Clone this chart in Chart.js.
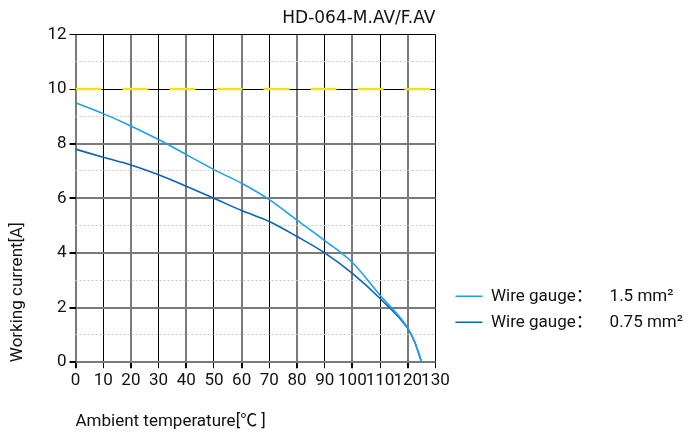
<!DOCTYPE html>
<html>
<head>
<meta charset="utf-8">
<script src="https://cdn.jsdelivr.net/npm/chart.js@4/dist/chart.umd.min.js"></script>
<style>
  html, body { margin: 0; padding: 0; background: #fff; }
  #wrap { width: 697px; height: 432px; }
</style>
</head>
<body>
<div id="wrap"><canvas id="deratingChart"></canvas></div>
<script>
// derating curve values
const temps15 = [0, 10, 20, 30, 40, 50, 60, 70, 80, 90, 100, 110, 120, 122.5, 125];
const current15 = [9.5, 9.1, 8.65, 8.15, 7.6, 7.05, 6.55, 5.95, 5.2, 4.45, 3.65, 2.45, 1.25, 0.75, 0];
const temps075 = [0, 10, 20, 30, 40, 50, 60, 70, 80, 90, 100, 110, 120, 122.5, 125];
const current075 = [7.8, 7.5, 7.22, 6.86, 6.44, 6.0, 5.55, 5.15, 4.6, 4.0, 3.25, 2.33, 1.23, 0.74, 0];
const limitTemps = [0, 130];
const limitCurrent = [10, 10];
const seriesNames = ['Wire gauge：    1.5 mm²', 'Wire gauge：    0.75 mm²'];

const toPoints = (xs, ys) => xs.map((x, i) => ({x: x, y: ys[i]}));

Chart.defaults.font.family = 'Roboto, "Noto Sans CJK SC", sans-serif';
Chart.defaults.color = '#1a1a1a';

const ctx = document.getElementById('deratingChart').getContext('2d');

new Chart(ctx, {
    type: 'line',
    data: {
        datasets: [{
            label: seriesNames[0],
            data: toPoints(temps15, current15),
            borderColor: '#1EA0E6',
            backgroundColor: '#1EA0E6',
            borderWidth: 1.6,
            pointRadius: 0,
            tension: 0.35,
            cubicInterpolationMode: 'monotone'
        }, {
            label: seriesNames[1],
            data: toPoints(temps075, current075),
            borderColor: '#0C64B6',
            backgroundColor: '#0C64B6',
            borderWidth: 1.6,
            pointRadius: 0,
            tension: 0.35,
            cubicInterpolationMode: 'monotone'
        }, {
            label: 'limit',
            data: toPoints(limitTemps, limitCurrent),
            borderColor: '#EDE22A',
            borderWidth: 2.5,
            borderDash: [26, 21],
            pointRadius: 0
        }]
    },
    options: {
        responsive: true,
        maintainAspectRatio: false,
        animation: false,
        layout: { padding: { left: 8, right: 4, top: 8, bottom: 0 } },
        scales: {
            x: {
                type: 'linear',
                min: 0,
                max: 130,
                ticks: {
                    stepSize: 10,
                    autoSkip: false,
                    maxRotation: 0,
                    padding: 2,
                    color: '#111',
                    font: { size: 17 }
                },
                grid: {
                    color: c => (c.index % 2 === 0 ? '#7a7a7a' : '#000'),
                    lineWidth: c => (c.index % 2 === 0 ? 2 : 1),
                    tickLength: 6,
                    tickColor: '#000'
                },
                border: { display: false },
                title: {
                    display: true,
                    text: 'Ambient temperature[℃ ]',
                    align: 'start',
                    color: '#111',
                    font: { size: 17 },
                    padding: { top: 19, bottom: 0 }
                }
            },
            y: {
                min: 0,
                max: 12,
                ticks: {
                    stepSize: 2,
                    padding: 3,
                    color: '#111',
                    font: { size: 17 }
                },
                grid: {
                    color: c => (c.tick && c.tick.value >= 10 ? '#000' : '#7a7a7a'),
                    lineWidth: c => (c.tick && c.tick.value >= 10 ? 1 : 2),
                    tickLength: 6,
                    tickColor: '#000'
                },
                border: { display: false },
                title: {
                    display: true,
                    text: 'Working current[A]',
                    align: 'start',
                    color: '#111',
                    font: { size: 17 },
                    padding: { top: 0, bottom: 16 }
                }
            },
            yMinor: {
                position: 'right',
                min: 0,
                max: 12,
                ticks: { stepSize: 1, display: false },
                grid: {
                    color: c => (c.tick && c.tick.value % 2 === 1 ? '#c8c8c8' : 'rgba(0,0,0,0)'),
                    lineWidth: 1,
                    drawTicks: false
                },
                border: { display: false, dash: [2, 2] },
                afterFit: scale => { scale.width = 11; }
            }
        },
        plugins: {
            title: {
                display: true,
                text: 'HD-064-M.AV/F.AV',
                align: 'end',
                fullSize: false,
                color: '#111',
                font: { family: '"DejaVu Sans", sans-serif', size: 17, weight: 'normal' },
                padding: { top: 0, bottom: 6 }
            },
            legend: {
                position: 'right',
                align: 'start',
                fullSize: false,
                maxWidth: 280,
                title: {
                    display: true,
                    text: ' ',
                    padding: { top: 230, bottom: 0 }
                },
                labels: {
                    filter: item => item.datasetIndex < 2,
                    usePointStyle: true,
                    pointStyle: 'line',
                    pointStyleWidth: 27,
                    color: '#111',
                    font: { size: 17 },
                    padding: 9
                }
            },
            tooltip: { enabled: false }
        }
    }
});
</script>
</body>
</html>
